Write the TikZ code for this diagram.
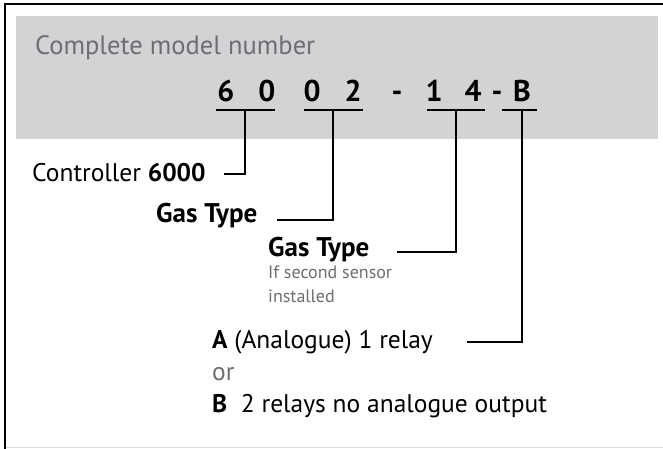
\documentclass[tikz,border=0pt]{standalone}
\usepackage{fontspec}
\setmainfont{PT Sans}
\definecolor{boxgrey}{HTML}{D1D3D4}
\definecolor{textgrey}{HTML}{6D6E71}
\definecolor{edgegrey}{HTML}{D9D9D9}
\begin{document}
\begin{tikzpicture}[x=1pt, y=-1pt,
        lbl/.style={anchor=base west, inner sep=0pt, font=\fontsize{25.5}{30}\selectfont},
        head/.style={anchor=base west, inner sep=0pt, font=\fontsize{27}{32}\selectfont\bfseries},
        note/.style={anchor=base west, inner sep=0pt, textgrey, font=\fontsize{18}{22}\selectfont},
        digit/.style={anchor=base, inner sep=0pt, font=\fontsize{30}{34}\selectfont\bfseries},
        uline/.style={line width=2pt},
        conn/.style={line width=2pt}]
        \useasboundingbox (0,0) rectangle (663,449);

        \fill[boxgrey] (16,16) rectangle (658,139);
        \draw[line width=2pt] (663,4.5) -- (5,4.5) -- (5,449);
        \draw[edgegrey, line width=1.5pt] (6,447.5) -- (663,447.5);

        \node[lbl, textgrey, font=\fontsize{26.5}{31}\selectfont] (title) at (35,55) {Complete model number};

        \node[digit] (n6) at (226,102) {6};
        \node[digit] (n0a) at (267,102) {0};
        \node[digit] (n0b) at (312,102) {0};
        \node[digit] (n2) at (353,102) {2};
        \node[digit] (dasha) at (397,102) {-};
        \node[digit] (n1) at (434,102) {1};
        \node[digit] (n4) at (473,102) {4};
        \node[digit] (dashb) at (497,102) {-};
        \node[digit] (nB) at (522,102) {B};

        \draw[uline] (216,110) -- coordinate[pos=0.49] (u60) (275,110);
        \draw[uline] (304,110) -- coordinate[pos=0.49] (u02) (363,110);
        \draw[uline] (427,110) -- coordinate[pos=0.5] (u14) (485,110);
        \draw[uline] (502,110) -- coordinate[pos=0.57] (uB) (537,110);

        \node[lbl] (ctrl) at (32,182) {Controller \textbf{6000}};
        \node[head] (gas1) at (156,222) {Gas Type};
        \node[head] (gas2) at (268,256) {Gas Type};
        \node[note] (sens) at (268,278) {If second sensor};
        \node[note] (inst) at (268,302) {installed};
        \node[lbl] (relA) at (212,348) {\textbf{A} (Analogue) 1 relay};
        \node[lbl, textgrey] (or) at (212,380) {or};
        \node[lbl] (relB) at (212,412) {\textbf{B}\ \ 2 relays no analogue output};

        \draw[conn] (u60) |- ([xshift=18pt,yshift=8pt]ctrl.base east);
        \draw[conn] (u02) |- ([xshift=19pt,yshift=2pt]gas1.base east);
        \draw[conn] (u14) |- ([xshift=27pt,yshift=4pt]gas2.base east);
        \draw[conn] (uB) |- ([xshift=34pt,yshift=6pt]relA.base east);
    \end{tikzpicture}
\end{document}
